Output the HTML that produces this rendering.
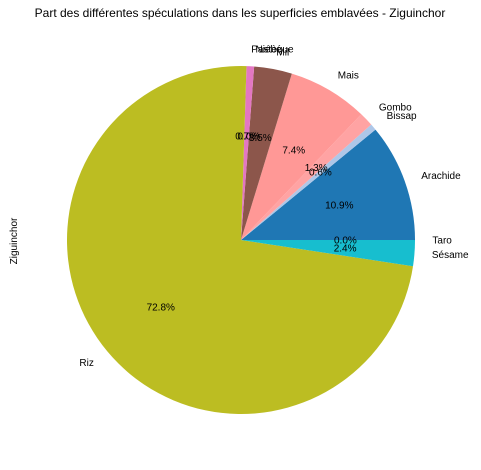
<!DOCTYPE html>
<html><head><meta charset="utf-8"><style>
body{margin:0;background:#fff;width:481px;height:465px;overflow:hidden}
text{font-family:"Liberation Sans","DejaVu Sans",sans-serif;font-size:10px;fill:#000}
</style></head><body>
<svg id="c" width="481" height="465">
<text x="240" y="17" text-anchor="middle" font-size="12" style="font-size:12px">Part des différentes spéculations dans les superficies emblavées - Ziguinchor</text>
<text transform="translate(17,241) rotate(-90)" text-anchor="middle">Ziguinchor</text>
<g id="slices"></g><g id="labels"></g>
</svg>
<script>
const categories=["Arachide","Bissap","Gombo","Mais","Mil","Niébé","Pastèque","Riz","Sésame","Taro"];
const values=[10.9,0.6,1.3,7.4,3.5,0.0,0.7,72.8,2.4,0.0];
const colors=["#1f77b4","#aec7e8","#ffa3a3","#ff9896","#8c564b","#c49c94","#e377c2","#bcbd22","#17becf","#9edae5"];
const cx=241,cy=240,r=174,NS="http://www.w3.org/2000/svg";
const total=values.reduce((a,b)=>a+b,0);
const gs=document.getElementById('slices'),gl=document.getElementById('labels');
let a0=0;
values.forEach((v,i)=>{
  const a1=a0+v/total*2*Math.PI;
  const p=(a)=>[cx+r*Math.cos(a),cy-r*Math.sin(a)];
  const [x0,y0]=p(a0),[x1,y1]=p(a1);
  if(v>0){
    const path=document.createElementNS(NS,'path');
    path.setAttribute('d',`M${cx},${cy}L${x0},${y0}A${r},${r} 0 ${a1-a0>Math.PI?1:0} 0 ${x1},${y1}Z`);
    path.setAttribute('fill',colors[i]);
    
    
    gs.appendChild(path);
  }
  const m=(a0+a1)/2,c=Math.cos(m),s=Math.sin(m);
  const t=document.createElementNS(NS,'text');
  t.setAttribute('x',cx+1.1*r*c);t.setAttribute('y',cy-1.1*r*s+3.5);
  t.setAttribute('text-anchor',c>=0?'start':'end');
  t.textContent=categories[i];
  
  
  gl.appendChild(t);
  const q=document.createElementNS(NS,'text');
  q.setAttribute('x',cx+0.6*r*c);q.setAttribute('y',cy-0.6*r*s+3.5);
  q.setAttribute('text-anchor','middle');
  q.textContent=v.toFixed(1)+'%';
  
  
  gl.appendChild(q);
  a0=a1;
});
</script>
</body></html>
